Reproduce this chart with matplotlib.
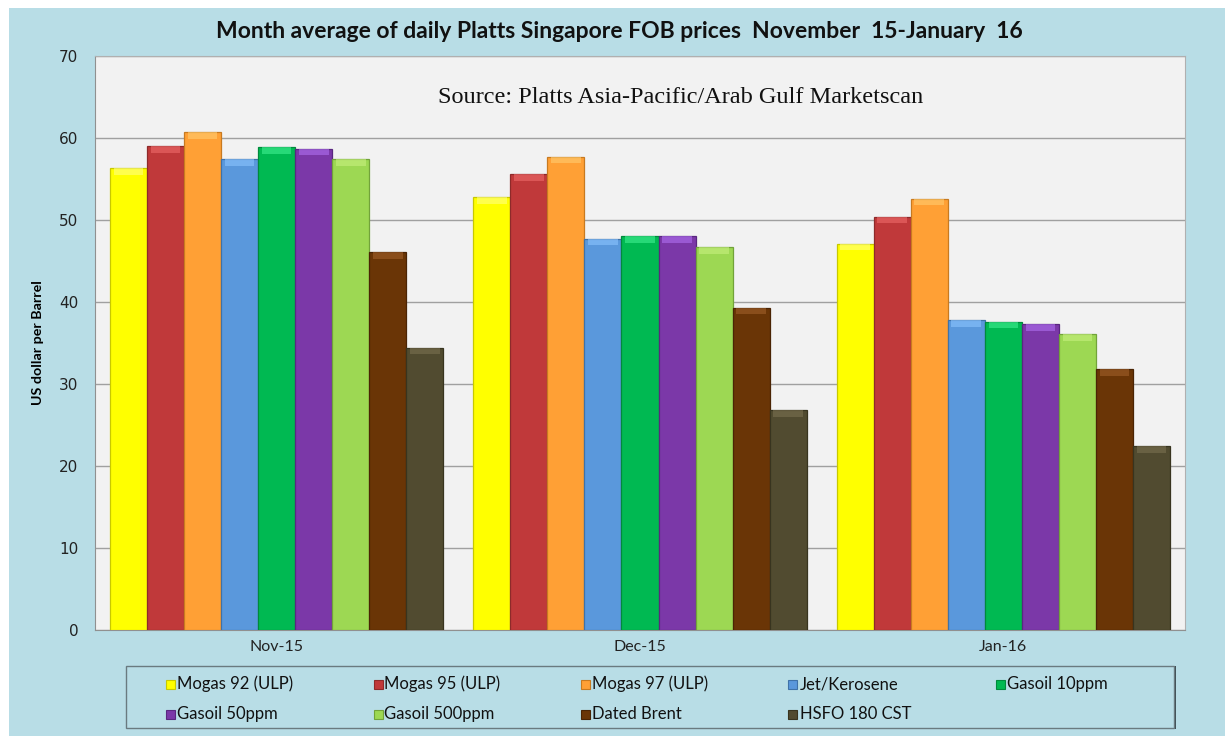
import matplotlib
matplotlib.use("Agg")
import matplotlib.pyplot as plt
import numpy as np
from matplotlib.patches import Rectangle

months = ["Nov-15", "Dec-15", "Jan-16"]
series_names = ["Mogas 92 (ULP)", "Mogas 95 (ULP)", "Mogas 97 (ULP)", "Jet/Kerosene",
                "Gasoil 10ppm", "Gasoil 50ppm", "Gasoil 500ppm", "Dated Brent", "HSFO 180 CST"]
mogas92 = [56.3, 52.8, 47.1]
mogas95 = [59.0, 55.6, 50.4]
mogas97 = [60.7, 57.7, 52.6]
jet = [57.4, 47.7, 37.8]
gasoil10 = [58.9, 48.0, 37.6]
gasoil50 = [58.7, 48.0, 37.3]
gasoil500 = [57.4, 46.7, 36.1]
brent = [46.1, 39.3, 31.8]
hsfo = [34.4, 26.8, 22.4]
series_values = [mogas92, mogas95, mogas97, jet, gasoil10, gasoil50, gasoil500, brent, hsfo]
yticks = [0, 10, 20, 30, 40, 50, 60, 70]

colors = ["#ffff00", "#c0393a", "#ffa035", "#5a98dc", "#00b952", "#7b38a8", "#9dd853", "#6a3506", "#514b30"]
edges = ["#c8c800", "#8e2a2a", "#c87a20", "#3f72a8", "#008a3c", "#5a2780", "#72a33a", "#4a2404", "#38341f"]
tops = ["#ffff80", "#ee6a6a", "#ffcc70", "#8cc4ff", "#40f090", "#b070f0", "#c8f080", "#a0602a", "#7a7050"]

W, H = 1225, 736
bg = "#b8dde6"
narrow = ["Lato", "DejaVu Sans"]
fig = plt.figure(figsize=(W / 100, H / 100), dpi=100, facecolor="white")
fig.patches.append(Rectangle((9 / W, 0), 1, 1 - 8 / H, transform=fig.transFigure,
                             facecolor=bg, edgecolor="none", zorder=-10))

ax = fig.add_axes([95 / W, 106 / H, 1090 / W, 574 / H])
ax.set_facecolor("#f2f2f2")
x = np.arange(len(months))
n = len(series_values)
w = 0.102
for i, (vals, c, e, t) in enumerate(zip(series_values, colors, edges, tops)):
    pos = x + (i - (n - 1) / 2) * w
    ax.bar(pos, vals, width=w, color=c, edgecolor=e, linewidth=0.9, label=series_names[i], zorder=3)
    ax.bar(pos, [0.8] * len(vals), bottom=np.array(vals) - 0.8, width=w * 0.8, color=t,
           edgecolor="none", zorder=4, alpha=0.6)

ax.set_xlim(-0.5, 2.5)
ax.set_ylim(0, 70)
ax.set_yticks(yticks)
ax.set_yticklabels([str(v) for v in yticks], fontsize=11, family="DejaVu Sans", color="#222222")
ax.set_xticks(x)
ax.set_xticklabels(months, fontsize=11.5, family=narrow, color="#222222")
ax.tick_params(axis="x", length=0, pad=7)
ax.tick_params(axis="y", length=0, pad=12)
ax.grid(axis="y", color="#a0a0a0", linewidth=1.0, zorder=0)
for s in ["top", "right"]:
    ax.spines[s].set_color("#b0b0b0")
for s in ["left", "bottom"]:
    ax.spines[s].set_color("#909090")

ax.set_ylabel("US dollar per Barrel", fontsize=10.3, fontweight="bold", family=narrow, labelpad=11)
ax.text((681 - 95) / 1090, 0.928, "Source: Platts Asia-Pacific/Arab Gulf Marketscan", transform=ax.transAxes,
        ha="center", va="center", fontsize=17.5, family="Liberation Serif", color="#111111")

fig.text(619 / W, 1 - 31 / H, "Month average of daily Platts Singapore FOB prices  November  15-January  16",
         ha="center", va="center", fontsize=16.5, fontweight="bold", family=narrow, color="#111111")

# legend box (Excel-style, equal column widths)
fig.patches.append(Rectangle((127 / W, 1 - 729 / H), 1049 / W, 63 / H, transform=fig.transFigure,
                             facecolor="#3a4a50", edgecolor="none", zorder=1))
fig.patches.append(Rectangle((126 / W, 1 - 728 / H), 1048 / W, 62 / H, transform=fig.transFigure,
                             facecolor=bg, edgecolor="#6a7a80", linewidth=1.0, zorder=2))
col_x = 166
col_step = 207.5
row_y = [684, 714]
msz = 9
for k, name in enumerate(series_names):
    cx = col_x + (k % 5) * col_step
    cy = row_y[k // 5]
    fig.patches.append(Rectangle((cx / W, 1 - (cy + msz / 2) / H), msz / W, msz / H,
                                 transform=fig.transFigure, facecolor=colors[k],
                                 edgecolor=edges[k], linewidth=0.8, zorder=3))
    fig.text((cx + msz + 2) / W, 1 - cy / H, name, ha="left", va="center",
             fontsize=12, family=narrow, color="#111111", zorder=3)

fig.savefig("out.png", dpi=100, facecolor=fig.get_facecolor())
